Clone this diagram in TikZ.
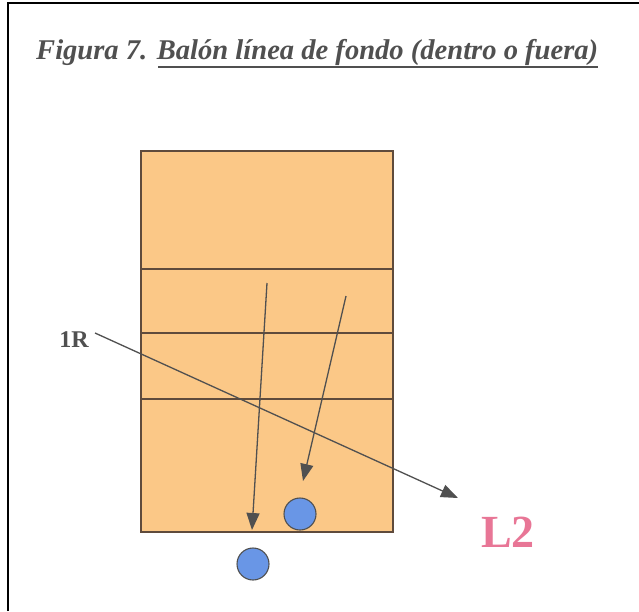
\documentclass[tikz,border=0pt]{standalone}
\usepackage{fontspec}
\setmainfont{Liberation Serif}
\usetikzlibrary{arrows.meta}
\definecolor{court}{RGB}{251,200,135}
\definecolor{courtline}{RGB}{95,75,60}
\definecolor{ink}{RGB}{80,80,80}
\definecolor{ballblue}{RGB}{105,150,230}
\definecolor{pinkL}{RGB}{232,118,150}
\begin{document}
\begin{tikzpicture}[x=1pt,y=-1pt,
  courtedge/.style={draw=courtline,line width=1.3pt},
  traj/.style={draw=ink,line width=1.3pt,-{Triangle[length=17pt,width=13pt]}},
  ball/.style={circle,draw=ink,line width=1.1pt,fill=ballblue,minimum size=32pt,inner sep=0pt},
  lbl/.style={inner sep=0pt,text=ink}]
\useasboundingbox (0,0) rectangle (639,611);
\fill[white] (0,0) rectangle (639,611);
% frame
\draw[black,line width=2.2pt] (8,611) -- (8,3) -- (639,3);
% title
\node[lbl,anchor=base west] (title) at (36,59)
  {\resizebox{562pt}{!}{\fontsize{28}{32}\selectfont\bfseries\itshape Figura 7. Bal\'on l\'inea de fondo (dentro o fuera)}};
\coordinate (ulA) at (158,67);
\coordinate (ulB) at (598,67);
\draw[ink,line width=2.4pt] (ulA) -- (ulB);
% court
\path[fill=court] (141,151) rectangle (393,532);
\draw[courtedge] (141,151) rectangle (393,532);
\coordinate (l1a) at (141,269); \coordinate (l1b) at (393,269);
\coordinate (l2a) at (141,333); \coordinate (l2b) at (393,333);
\coordinate (l3a) at (141,399); \coordinate (l3b) at (393,399);
\draw[courtedge] (l1a) -- (l1b);
\draw[courtedge] (l2a) -- (l2b);
\draw[courtedge] (l3a) -- (l3b);
% balls
\node[ball] (b1) at (300,514) {};
\node[ball] (b2) at (253,564) {};
% trajectories
\coordinate (s1) at (267,283); \coordinate (e1) at (252,530);
\coordinate (s2) at (346,296); \coordinate (e2) at (303,481);
\coordinate (s3) at (95,333);  \coordinate (e3) at (458,498);
\draw[traj] (s1) -- (e1);
\draw[traj] (s2) -- (e2);
\draw[traj] (s3) -- (e3);
% labels
\node[lbl] (r1) at (74,340) {\fontsize{24}{27}\selectfont\bfseries 1R};
\node[inner sep=0pt,text=pinkL] (l2) at (508,532) {\fontsize{46}{50}\selectfont\bfseries L2};
\end{tikzpicture}
\end{document}
